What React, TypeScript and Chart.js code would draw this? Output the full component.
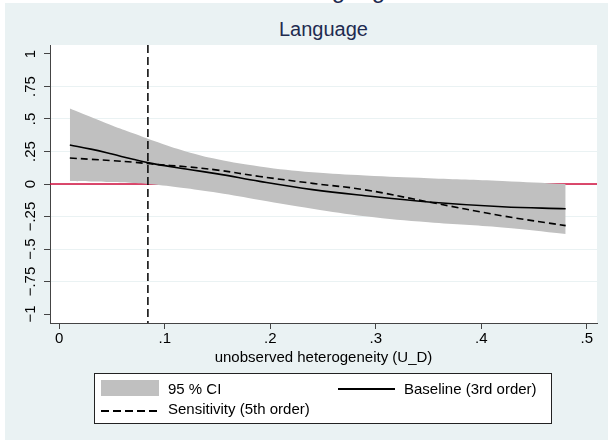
import React, { useEffect, useRef } from 'react';
import { Chart, registerables, Plugin } from 'chart.js';

Chart.register(...registerables);

// values
const uD = [0.01, 0.03, 0.05, 0.07, 0.09, 0.12, 0.15, 0.19, 0.24, 0.29, 0.35, 0.42, 0.48];
const ciUpper = [0.58, 0.515, 0.45, 0.39, 0.33, 0.25, 0.19, 0.135, 0.09, 0.066, 0.045, 0.024, 0.0];
const ciLower = [0.023, 0.02, 0.015, 0.008, -0.003, -0.033, -0.068, -0.123, -0.19, -0.248, -0.295, -0.335, -0.385];
const baseline = [0.30, 0.268, 0.23, 0.19, 0.155, 0.115, 0.078, 0.02, -0.043, -0.09, -0.138, -0.175, -0.19];
const sensitivity = [0.20, 0.19, 0.18, 0.168, 0.152, 0.133, 0.107, 0.058, 0.005, -0.045, -0.138, -0.245, -0.32];

const cutoff = 0.084; // vertical reference line
const xTicks = [0, 0.1, 0.2, 0.3, 0.4, 0.5];
const xTickLabels = ['0', '.1', '.2', '.3', '.4', '.5'];
const yTicks = [-1, -0.75, -0.5, -0.25, 0, 0.25, 0.5, 0.75, 1];
const yTickLabels = ['\u22121', '\u2212.75', '\u2212.5', '\u2212.25', '0', '.25', '.5', '.75', '1'];

const xMin = -0.0088;
const xMax = 0.5097;
const yMin = -1.069;
const yMax = 1.069;

const FONT = '"Liberation Sans", Arial, Helvetica, sans-serif';
const PANEL = '#eaf2f3';
const AXIS = '#444444';
const CI_GRAY = '#c0c0c0';
const RED = '#d00c3c';

const pts = (ys: number[]) => ys.map((y, i) => ({ x: uD[i], y }));

const decorPlugin: Plugin = {
  id: 'decor',
  beforeDraw(chart) {
    const { ctx, chartArea: a } = chart;
    ctx.save();
    ctx.fillStyle = '#ffffff';
    ctx.fillRect(a.left, a.top, a.right - a.left, a.bottom - a.top);
    ctx.restore();
  },
  beforeDatasetsDraw(chart) {
    // red zero line, sits under the CI band
    const { ctx, chartArea: a } = chart;
    const y0 = chart.scales.y.getPixelForValue(0);
    ctx.save();
    ctx.strokeStyle = RED;
    ctx.lineWidth = 1.5;
    ctx.beginPath();
    ctx.moveTo(a.left, y0);
    ctx.lineTo(a.right, y0);
    ctx.stroke();
    ctx.restore();
  },
  afterDatasetsDraw(chart) {
    const { ctx, chartArea: a } = chart;
    const xc = chart.scales.x.getPixelForValue(cutoff);
    ctx.save();
    ctx.strokeStyle = '#000';
    ctx.lineWidth = 1.5;
    ctx.setLineDash([8, 4]);
    ctx.beginPath();
    ctx.moveTo(xc, a.top);
    ctx.lineTo(xc, a.bottom);
    ctx.stroke();
    ctx.restore();
  },
  afterDraw(chart) {
    // rotated y tick labels (chart.js won't rotate vertical axis labels)
    const { ctx } = chart;
    const ys = chart.scales.y;
    ctx.save();
    ctx.fillStyle = '#000';
    ctx.font = `15px ${FONT}`;
    ctx.textAlign = 'center';
    ctx.textBaseline = 'alphabetic';
    yTicks.forEach((v, i) => {
      const py = ys.getPixelForValue(v);
      ctx.save();
      ctx.translate(35, py);
      ctx.rotate(-Math.PI / 2);
      ctx.fillText(yTickLabels[i], 0, 0);
      ctx.restore();
    });
    ctx.restore();
  },
};

export default function App() {
  const canvasRef = useRef<HTMLCanvasElement | null>(null);

  useEffect(() => {
    document.body.style.margin = '0';
    const canvas = canvasRef.current;
    if (!canvas) return;

    const chart = new Chart(canvas, {
      type: 'line',
      data: {
        datasets: [
          {
            label: '95 % CI',
            data: pts(ciUpper),
            borderWidth: 0,
            borderColor: 'transparent',
            backgroundColor: CI_GRAY,
            pointRadius: 0,
            fill: '+1',
            order: 5,
            tension: 0.4,
          },
          {
            label: 'lower',
            data: pts(ciLower),
            borderWidth: 0,
            borderColor: 'transparent',
            backgroundColor: CI_GRAY,
            pointRadius: 0,
            fill: false,
            order: 4,
            tension: 0.4,
          },
          {
            label: 'Baseline (3rd order)',
            data: pts(baseline),
            borderColor: '#000',
            borderWidth: 1.6,
            pointRadius: 0,
            fill: false,
            order: 1,
            tension: 0.4,
          },
          {
            label: 'Sensitivity (5th order)',
            data: pts(sensitivity),
            borderColor: '#000',
            borderWidth: 1.6,
            borderDash: [7, 4],
            pointRadius: 0,
            fill: false,
            order: 2,
            tension: 0.4,
          },
        ],
      },
      options: {
        animation: false,
        responsive: false,
        events: [],
        layout: { padding: { top: 45, right: 11, left: 0, bottom: 0 } },
        plugins: {
          legend: { display: false },
          tooltip: { enabled: false },
          title: { display: false },
        },
        scales: {
          x: {
            type: 'linear',
            min: xMin,
            max: xMax,
            afterBuildTicks: (s: any) => { s.ticks = xTicks.map((v) => ({ value: v })); },
            afterFit: (s: any) => { s.height = 120; },
            grid: { drawOnChartArea: false, drawTicks: true, tickLength: 6, tickColor: AXIS, tickWidth: 1 },
            border: { display: true, color: AXIS, width: 1 },
            ticks: {
              font: { family: FONT, size: 15 },
              color: '#000',
              padding: 1,
              maxRotation: 0,
              autoSkip: false,
              callback: (_v: any, i: number) => xTickLabels[i],
            },
          },
          y: {
            type: 'linear',
            min: yMin,
            max: yMax,
            afterBuildTicks: (s: any) => { s.ticks = yTicks.map((v) => ({ value: v })); },
            afterFit: (s: any) => { s.width = 50; },
            grid: {
              color: (c: any) => (c.tick && Math.abs(c.tick.value) === 1 ? 'rgba(0,0,0,0)' : PANEL),
              lineWidth: 1,
              drawTicks: true,
              tickLength: 6,
              tickColor: AXIS,
              tickWidth: 1,
            },
            border: { display: true, color: AXIS, width: 1 },
            ticks: { display: false },
          },
        },
      },
      plugins: [decorPlugin],
    });

    return () => chart.destroy();
  }, []);

  const text: React.CSSProperties = {
    position: 'absolute',
    fontFamily: FONT,
    fontSize: 15,
    lineHeight: '15px',
    color: '#000',
    whiteSpace: 'nowrap',
  };

  return (
    <div style={{ position: 'relative', width: 608, height: 443, background: '#fff', overflow: 'hidden' }}>
      {/* clipped remains of a larger heading above */}
      <div style={{ position: 'absolute', left: 0, top: 0, width: 608, height: 3, overflow: 'hidden' }}>
        <div style={{ ...text, left: 245, width: 200, textAlign: 'center', top: -22, fontSize: 24, lineHeight: '24px', color: '#1e2b50' }}>
          Language
        </div>
      </div>
      <div style={{ position: 'absolute', left: 5, top: 3, width: 603, height: 437, background: PANEL }} />
      <div style={{ ...text, left: 50, width: 547, textAlign: 'center', top: 19, fontSize: 20, lineHeight: '20px', color: '#1e2b50' }}>
        Language
      </div>
      <canvas ref={canvasRef} width={608} height={443} style={{ position: 'absolute', left: 0, top: 0, width: 608, height: 443 }} />
      <div style={{ ...text, left: 50, width: 547, textAlign: 'center', top: 349 }}>
        unobserved heterogeneity (U_D)
      </div>
      <div style={{ position: 'absolute', left: 94, top: 373, width: 456, height: 49, background: '#fff', border: '1px solid #222' }}>
        <div style={{ position: 'absolute', left: 6, top: 6, width: 58, height: 16, background: CI_GRAY }} />
        <div style={{ ...text, left: 73, top: 7 }}>95 % CI</div>
        <div style={{ position: 'absolute', left: 243, top: 14, width: 57, height: 1.5, background: '#000' }} />
        <div style={{ ...text, left: 309, top: 7 }}>Baseline (3rd order)</div>
        <div
          style={{
            position: 'absolute', left: 6, top: 36, width: 58, height: 1.5,
            background: 'repeating-linear-gradient(to right, #000 0, #000 8px, transparent 8px, transparent 12px)',
          }}
        />
        <div style={{ ...text, left: 73, top: 27 }}>Sensitivity (5th order)</div>
      </div>
    </div>
  );
}
